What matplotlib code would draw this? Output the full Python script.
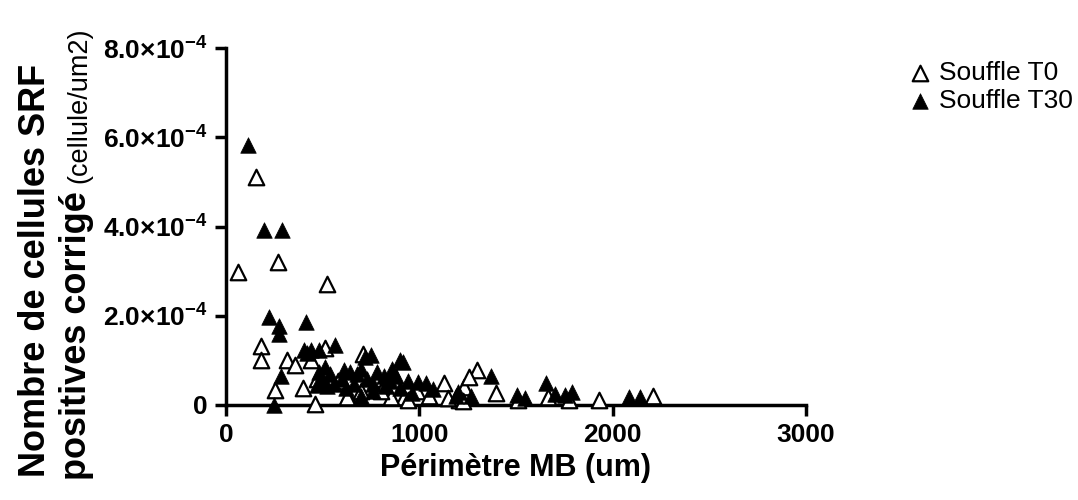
import matplotlib
matplotlib.use("Agg")
import matplotlib.pyplot as plt

# Souffle T0 (open triangles): perimetre (um), cellules/um2 (x1e-4)
t0_x = [64, 154, 269, 520, 182, 182, 251, 458, 318, 359, 442, 397, 513, 708,
        632, 919, 853, 627, 1127, 1232, 1207, 1297, 1397, 1512, 1668, 1772,
        1927, 2210, 1227, 1258, 990, 940, 580, 780, 700, 470, 1150, 1050, 800]
t0_y = [2.99, 5.12, 3.2, 2.72, 1.33, 1.01, 0.34, 0.02, 1.01, 0.9, 1.01, 0.39,
        1.27, 1.15, 0.21, 0.17, 0.18, 0.18, 0.49, 0.41, 0.11, 0.79, 0.27,
        0.11, 0.18, 0.11, 0.11, 0.21, 0.09, 0.63, 0.32, 0.11, 0.53, 0.59,
        0.32, 0.59, 0.16, 0.21, 0.32]

# Souffle T30 (filled triangles)
t30_x = [116, 199, 290, 222, 274, 274, 413, 246, 283, 565, 402, 442, 480, 420,
         749, 900, 720, 609, 817, 913, 992, 1035, 1070, 1200, 1190, 1269, 1371,
         1505, 1544, 1657, 1700, 1755, 1789, 2083, 2143, 480, 510, 540, 560,
         600, 640, 660, 680, 700, 730, 760, 780, 820, 850, 880, 900, 940, 960,
         760, 700, 620, 520, 490, 470, 860]
t30_y = [5.82, 3.93, 3.93, 1.98, 1.76, 1.6, 1.87, 0.0, 0.64, 1.34, 1.24, 1.24,
         1.24, 1.17, 1.12, 1.01, 1.07, 0.79, 0.64, 0.97, 0.51, 0.49, 0.36, 0.3,
         0.21, 0.21, 0.64, 0.22, 0.16, 0.5, 0.25, 0.22, 0.3, 0.18, 0.18, 0.75,
         0.85, 0.69, 0.48, 0.59, 0.75, 0.48, 0.69, 0.8, 0.59, 0.48, 0.75, 0.43,
         0.53, 0.64, 0.37, 0.53, 0.27, 0.32, 0.21, 0.37, 0.43, 0.53, 0.45, 0.8]

x_ticks = [0, 1000, 2000, 3000]
y_ticks = [0, 2e-4, 4e-4, 6e-4, 8e-4]
y_tick_labels = ["0",
                 r"$\mathbf{2.0{\times}10^{-4}}$",
                 r"$\mathbf{4.0{\times}10^{-4}}$",
                 r"$\mathbf{6.0{\times}10^{-4}}$",
                 r"$\mathbf{8.0{\times}10^{-4}}$"]

plt.rcParams["font.family"] = ["Liberation Sans", "DejaVu Sans"]
plt.rcParams["mathtext.fontset"] = "custom"
plt.rcParams["mathtext.rm"] = "Liberation Sans"
plt.rcParams["mathtext.bf"] = "Liberation Sans:bold"
plt.rcParams["mathtext.it"] = "Liberation Sans:italic"

W, H = 1078, 500
fig = plt.figure(figsize=(W / 100, H / 100), dpi=100)
ax = fig.add_axes([226 / W, 1 - 405 / H, (806 - 226) / W, (405 - 48) / H])

ax.scatter(t0_x, [v * 1e-4 for v in t0_y], marker="^", s=125,
           facecolors="white", edgecolors="black", linewidths=1.6,
           clip_on=False, zorder=3, label="Souffle T0")
ax.scatter(t30_x, [v * 1e-4 for v in t30_y], marker="^", s=125,
           color="black", linewidths=0.5, clip_on=False, zorder=4,
           label="Souffle T30")

ax.set_xlim(0, 3000)
ax.set_ylim(0, 8e-4)
ax.set_xticks(x_ticks)
ax.set_xticklabels([str(v) for v in x_ticks], fontsize=19, fontweight="bold")
ax.set_yticks(y_ticks)
ax.set_yticklabels(y_tick_labels, fontsize=19, fontweight="bold")

for side in ["top", "right"]:
    ax.spines[side].set_visible(False)
for side in ["left", "bottom"]:
    ax.spines[side].set_linewidth(2.5)
ax.tick_params(width=2.5, length=8, direction="out", pad=5)

ax.set_xlabel("Périmètre MB (um)", fontsize=22, fontweight="bold", labelpad=4)

# y label: two rotated lines, the unit in a smaller regular font
fig.text(45 / W, 1 - 477 / H, "Nombre de cellules SRF", rotation=90,
         rotation_mode="anchor", ha="left", va="baseline",
         fontsize=26, fontweight="bold")
t2 = fig.text(86 / W, 1 - 480 / H, "positives corrigé", rotation=90,
              rotation_mode="anchor", ha="left", va="baseline",
              fontsize=26, fontweight="bold")
renderer = fig.canvas.get_renderer()
bb = t2.get_window_extent(renderer)
fig.text(86 / W, (bb.y1 + 8) / H, "(cellule/um2)", rotation=90,
         rotation_mode="anchor", ha="left", va="baseline", fontsize=19.5)

ax.legend(loc="upper left", bbox_to_anchor=(907 / W, 1 - 61 / H),
          bbox_transform=fig.transFigure, frameon=False, fontsize=19,
          handlelength=1.0, handletextpad=0.2, labelspacing=0.15,
          borderpad=0, borderaxespad=0)

fig.savefig("out.png", dpi=100)
